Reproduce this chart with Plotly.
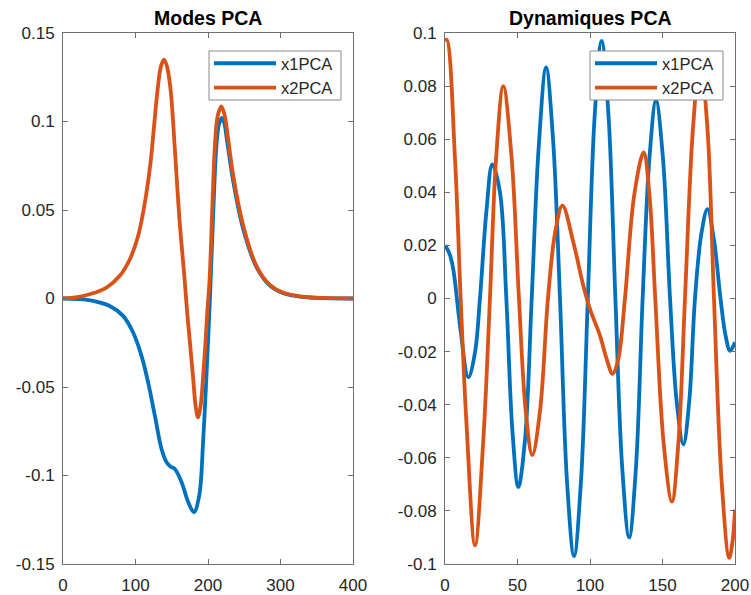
import plotly.graph_objects as go

# ---------------- data ----------------
# Left panel: "Modes PCA"
modes_x1_x = [0, 20, 41.4, 64.5, 82.9, 96.7, 108.3, 117.4, 126.7, 135.9, 142.9, 148.5, 154.3, 163.6, 172.7, 180.6, 187.9, 193.4, 198.1, 202.7, 207, 211.9, 215.5, 219, 222.5, 226, 234.9, 248.7, 267.2, 285, 304, 330, 360, 400]
modes_x1_y = [0, -0.0003, -0.0013, -0.0042, -0.0098, -0.0192, -0.0324, -0.0474, -0.0662, -0.085, -0.0925, -0.0950, -0.0963, -0.1038, -0.115, -0.1207, -0.1113, -0.0794, -0.0417, 0, 0.046, 0.088, 0.099, 0.102, 0.099, 0.090, 0.066, 0.039, 0.0175, 0.0075, 0.0030, 0.0009, 0.0002, 0]

modes_x2_x = [0, 20, 36.9, 60, 78.3, 92.2, 103.6, 112.9, 120.7, 125.5, 130.5, 135, 139.3, 143.5, 148.4, 154.3, 160.3, 167.7, 171.3, 175.5, 179.6, 182.9, 186.1, 189.8, 193, 196.2, 199, 202.2, 206, 209, 211.9, 214.2, 218.3, 222.4, 224.8, 234.9, 248.7, 267.2, 285, 304, 330, 360, 400]
modes_x2_y = [0, 0.0008, 0.0024, 0.0062, 0.0128, 0.0222, 0.0353, 0.0541, 0.0767, 0.097, 0.118, 0.131, 0.135, 0.131, 0.118, 0.0842, 0.0466, 0.0109, -0.0079, -0.0267, -0.0455, -0.0606, -0.0671, -0.0606, -0.0455, -0.0267, -0.0079, 0.0109, 0.052, 0.083, 0.0993, 0.1045, 0.1086, 0.1045, 0.0993, 0.0691, 0.041, 0.018, 0.0078, 0.0032, 0.0010, 0.0003, 0]

# Right panel: "Dynamiques PCA"
dyn_x1_x = [0, 3, 5.7, 10.3, 16.1, 20.7, 24.1, 28.7, 32.6, 37.9, 42.3, 46.5, 50.6, 55.2, 59.8, 64.5, 69.7, 74.5, 79.3, 84.1, 89, 93.8, 98.5, 103.2, 108, 112.8, 117.5, 122.2, 127, 131.7, 136.3, 141, 145.5, 150.3, 155.2, 159.8, 164.4, 168.4, 172.4, 176.7, 181, 185.5, 190, 193.5, 196.6, 200]
dyn_x1_y = [0.020, 0.017, 0.011, -0.010, -0.0297, -0.0203, 0, 0.0337, 0.0505, 0.040, 0, -0.050, -0.071, -0.053, 0, 0.0560, 0.087, 0.0600, 0, -0.0686, -0.097, -0.0686, 0, 0.0686, 0.097, 0.0686, 0, -0.0636, -0.090, -0.0636, 0, 0.053, 0.0745, 0.053, 0, -0.039, -0.055, -0.039, 0, 0.024, 0.0337, 0.022, 0, -0.014, -0.0197, -0.0165]

dyn_x2_x = [0, 1.2, 6.9, 10.8, 14.9, 20.7, 26.4, 31, 35.2, 40.2, 46, 51, 55.6, 60.2, 65.6, 71, 76, 81, 88.5, 95.4, 100, 106.9, 111.5, 115.6, 119.5, 124.1, 130.5, 137, 141, 145, 150.7, 156.5, 161, 165.5, 171, 176, 181, 185.5, 190.8, 196, 198.2, 200]
dyn_x2_y = [0.097, 0.0975, 0.0525, 0, -0.048, -0.093, -0.0535, 0, 0.0525, 0.080, 0.0525, 0, -0.042, -0.059, -0.042, 0, 0.025, 0.035, 0.0212, 0.0048, -0.004, -0.014, -0.0228, -0.0284, -0.0228, 0, 0.039, 0.055, 0.039, 0, -0.054, -0.0765, -0.054, 0, 0.064, 0.090, 0.064, 0, -0.069, -0.0977, -0.092, -0.0795]

series_names = ["x1PCA", "x2PCA"]
titles = ["Modes PCA", "Dynamiques PCA"]

left_xticks = [0, 100, 200, 300, 400]
left_yticks = [-0.15, -0.1, -0.05, 0, 0.05, 0.1, 0.15]
left_yticklabels = ["-0.15", "-0.1", "-0.05", "0", "0.05", "0.1", "0.15"]
right_xticks = [0, 50, 100, 150, 200]
right_yticks = [-0.1, -0.08, -0.06, -0.04, -0.02, 0, 0.02, 0.04, 0.06, 0.08, 0.1]
right_yticklabels = ["-0.1", "-0.08", "-0.06", "-0.04", "-0.02", "0", "0.02", "0.04", "0.06", "0.08", "0.1"]

# ---------------- style ----------------
BLUE = "#0072BD"
ORANGE = "#D95319"
FONT = "Liberation Sans, Arial, sans-serif"
TXT = "#262626"
AX = "#6f6f6f"
LW = 3.8
SM = 1.0

W, H = 751, 595


def fx(p):
    return p / W


def fy(p):
    return 1 - p / H


fig = go.Figure()

fig.add_trace(go.Scatter(x=modes_x1_x, y=modes_x1_y, name=series_names[0], mode="lines",
                         line=dict(color=BLUE, width=LW, shape="spline", smoothing=SM),
                         xaxis="x", yaxis="y", legend="legend"))
fig.add_trace(go.Scatter(x=modes_x2_x, y=modes_x2_y, name=series_names[1], mode="lines",
                         line=dict(color=ORANGE, width=LW, shape="spline", smoothing=SM),
                         xaxis="x", yaxis="y", legend="legend"))
fig.add_trace(go.Scatter(x=dyn_x1_x, y=dyn_x1_y, name=series_names[0], mode="lines",
                         line=dict(color=BLUE, width=LW, shape="spline", smoothing=SM),
                         xaxis="x2", yaxis="y2", legend="legend2"))
fig.add_trace(go.Scatter(x=dyn_x2_x, y=dyn_x2_y, name=series_names[1], mode="lines",
                         line=dict(color=ORANGE, width=LW, shape="spline", smoothing=SM),
                         xaxis="x2", yaxis="y2", legend="legend2"))

xd1 = [fx(63), fx(353)]
xd2 = [fx(445), fx(735)]
yd = [fy(564), fy(33)]

common = dict(showline=True, linecolor=AX, linewidth=1, mirror="ticks",
              ticks="inside", ticklen=5, tickwidth=1, tickcolor=AX,
              showgrid=False, zeroline=False, automargin=False,
              tickfont=dict(family=FONT, size=17, color=TXT))

leg = dict(xanchor="left", yanchor="top",
           bgcolor="rgba(0,0,0,0)", borderwidth=0,
           font=dict(family=FONT, size=16.5, color=TXT), tracegroupgap=0,
           itemwidth=62)

legend_boxes = [(209, 341, 51, 100), (590, 723, 51, 100)]
shapes = [dict(type="rect", xref="paper", yref="paper", layer="above",
               x0=fx(a), x1=fx(b), y0=fy(d), y1=fy(c),
               fillcolor="white", line=dict(color="#8a8a8a", width=1))
          for (a, b, c, d) in legend_boxes]

fig.update_layout(
    width=W, height=H,
    margin=dict(l=0, r=0, t=0, b=0, autoexpand=False),
    paper_bgcolor="white", plot_bgcolor="white",
    showlegend=True,
    xaxis=dict(domain=xd1, range=[0, 400], tickvals=left_xticks, anchor="y",
               ticklabelstandoff=6, **common),
    yaxis=dict(domain=yd, range=[-0.15, 0.15], tickvals=left_yticks, ticktext=left_yticklabels,
               anchor="x", ticklabelstandoff=4, **common),
    xaxis2=dict(domain=xd2, range=[0, 200], tickvals=right_xticks, anchor="y2",
                ticklabelstandoff=6, **common),
    yaxis2=dict(domain=yd, range=[-0.1, 0.1], tickvals=right_yticks, ticktext=right_yticklabels,
                anchor="x2", ticklabelstandoff=4, **common),
    legend=dict(x=fx(209), y=fy(46), **leg),
    legend2=dict(x=fx(590), y=fy(46), **leg),
    shapes=shapes,
    annotations=[
        dict(text="<b>" + titles[0] + "</b>", x=(xd1[0] + xd1[1]) / 2, y=fy(17.5),
             xref="paper", yref="paper", xanchor="center", yanchor="middle", showarrow=False,
             font=dict(family=FONT, size=19.5, color="#000000")),
        dict(text="<b>" + titles[1] + "</b>", x=(xd2[0] + xd2[1]) / 2, y=fy(17.5),
             xref="paper", yref="paper", xanchor="center", yanchor="middle", showarrow=False,
             font=dict(family=FONT, size=19.5, color="#000000")),
    ],
)

# remove the browser's default 8px body margin so the figure fills the window exactly
fig.write_html("out.html", config={"displayModeBar": False},
               post_script="document.body.style.margin='0';")
